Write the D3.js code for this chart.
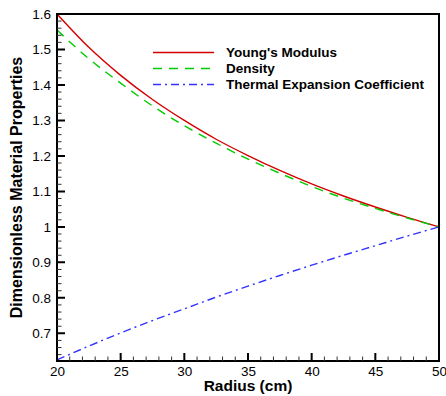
<!DOCTYPE html>
<html>
<head>
<meta charset="utf-8">
<script src="https://cdn.jsdelivr.net/npm/d3@7"></script>
<style>
  body { margin: 0; background: #fff; }
  text { font-family: "Liberation Sans", Arial, sans-serif; }
</style>
</head>
<body>
<div id="chart"></div>
<script>
// 数据
const radius = [20, 22.5, 25, 27.5, 30, 32.5, 35, 37.5, 40, 42.5, 45, 47.5, 50]
const youngs = [1.6, 1.506, 1.427, 1.359, 1.300, 1.247, 1.201, 1.159, 1.121, 1.087, 1.056, 1.027, 1.0]
const density = [1.555, 1.474, 1.405, 1.341, 1.285, 1.236, 1.191, 1.151, 1.114, 1.081, 1.052, 1.025, 1.0]
const thermal = [0.625, 0.664, 0.701, 0.736, 0.769, 0.802, 0.833, 0.863, 0.892, 0.920, 0.947, 0.974, 1.0]
const xTicks = [20, 25, 30, 35, 40, 45, 50]
const yTicks = [0.7, 0.8, 0.9, 1, 1.1, 1.2, 1.3, 1.4, 1.5, 1.6]
const series = [
  {name: "Young's Modulus", values: youngs, color: "#d40000", dash: null},
  {name: "Density", values: density, color: "#00cc00", dash: "9,7"},
  {name: "Thermal Expansion Coefficient", values: thermal, color: "#3333ff", dash: "8,4,2,4"}
]

const width = 446, height = 396
const margin = {left: 57, right: 7, top: 14, bottom: 35}

const svg = d3.select("#chart").append("svg")
  .attr("width", width).attr("height", height)

const x = d3.scaleLinear().domain([20, 50]).range([margin.left, width - margin.right])
const y = d3.scaleLinear().domain([0.622, 1.6]).range([height - margin.bottom, margin.top])

const root = svg.append("g")
const x0 = x.range()[0], yb = y.range()[0]

// 次刻度
const xMinor = d3.range(20, 50.001, 1).filter(v => v % 5 !== 0)
const yMinor = d3.range(0.64, 1.6, 0.02).filter(v => Math.abs(v * 10 - Math.round(v * 10)) > 0.01)

// 刻度线（朝内），用 path 画
const tickPath = d3.path()
xTicks.forEach(d => { tickPath.moveTo(x(d), yb); tickPath.lineTo(x(d), yb - 8) })
yTicks.forEach(d => { tickPath.moveTo(x0, y(d)); tickPath.lineTo(x0 + 8, y(d)) })
const minorPath = d3.path()
xMinor.forEach(d => { minorPath.moveTo(x(d), yb); minorPath.lineTo(x(d), yb - 4.5) })
yMinor.forEach(d => { minorPath.moveTo(x0, y(d)); minorPath.lineTo(x0 + 4.5, y(d)) })

// 刻度文字
const xAxis = root.append("g").attr("transform", `translate(0,${yb})`)
xAxis.call(d3.axisBottom(x).tickValues(xTicks).tickSize(0).tickPadding(5).tickFormat(d3.format("d")))
xAxis.select(".domain").remove()
xAxis.selectAll("text").attr("font-size", 13.5).attr("fill", "#000")

const yAxis = root.append("g").attr("transform", `translate(${x0},0)`)
yAxis.call(d3.axisLeft(y).tickValues(yTicks).tickSize(0).tickPadding(6).tickFormat(d3.format("")))
yAxis.select(".domain").remove()
yAxis.selectAll("text").attr("font-size", 13.5).attr("fill", "#000")

// 曲线
const line = d3.line().x((d, i) => x(radius[i])).y(d => y(d)).curve(d3.curveMonotoneX)
root.append("g").selectAll("path").data(series).join("path")
  .attr("d", d => line(d.values))
  .attr("fill", "none")
  .attr("stroke", d => d.color)
  .attr("stroke-width", 1.4)
  .attr("stroke-dasharray", d => d.dash)

// 边框
root.append("rect")
  .attr("x", x0).attr("y", y.range()[1])
  .attr("width", x.range()[1] - x0).attr("height", yb - y.range()[1])
  .attr("fill", "none").attr("stroke", "#000").attr("stroke-width", 2)

root.append("path").attr("d", minorPath.toString())
  .attr("fill", "none").attr("stroke", "#333").attr("stroke-width", 1)
root.append("path").attr("d", tickPath.toString())
  .attr("fill", "none").attr("stroke", "#000").attr("stroke-width", 2)

// 图例
const legend = root.append("g").attr("transform", "translate(153,52.5)")
const item = legend.selectAll("g").data(series).join("g")
  .attr("transform", (d, i) => `translate(0,${i * 16})`)
item.append("line").attr("x1", 0).attr("x2", 61).attr("y1", 0).attr("y2", 0)
  .attr("stroke", d => d.color).attr("stroke-width", 1.4)
  .attr("stroke-dasharray", d => d.dash)
item.append("text").attr("x", 73).attr("y", 0).attr("dy", "0.36em")
  .attr("font-size", 13.5).attr("font-weight", "bold").text(d => d.name)

// 轴标题
root.append("text")
  .attr("x", (x0 + x.range()[1]) / 2).attr("y", 391)
  .attr("text-anchor", "middle").attr("font-size", 15.5).attr("font-weight", "bold")
  .text("Radius (cm)")
root.append("text")
  .attr("transform", `translate(22,${(yb + y.range()[1]) / 2}) rotate(-90)`)
  .attr("text-anchor", "middle").attr("font-size", 16).attr("font-weight", "bold")
  .text("Dimensionless Material Properties")
</script>
</body>
</html>
